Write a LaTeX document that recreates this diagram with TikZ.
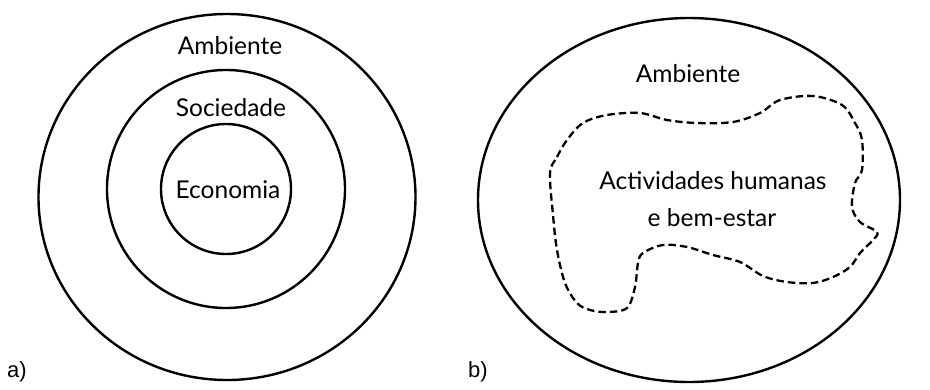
\documentclass[tikz,border=0pt]{standalone}
\usepackage{fontspec}
\setmainfont{Lato}
\newfontfamily\labelfont{Liberation Sans}
\begin{document}
\begin{tikzpicture}[x=1pt,y=-1pt,
  ring/.style={draw=black,line width=2.4pt},
  word/.style={font=\fontsize{24.5}{28}\selectfont,align=center,inner sep=0pt},
  tag/.style={font=\labelfont\fontsize{22}{26}\selectfont,inner sep=0pt,anchor=west},
  blob/.style={draw=black,line width=2.3pt,dash pattern=on 7.5pt off 4pt}]
\useasboundingbox (0,0) rectangle (930,389);

% a) nested model
\draw[ring] (227,197) ellipse [x radius=188.5, y radius=183];
\draw[ring] (226,189) circle [radius=119];
\draw[ring] (226,189) circle [radius=65];
\node[word] (ambA) at (230,46) {Ambiente};
\node[word] (soc) at (231,108) {Sociedade};
\node[word] (eco) at (228,190) {Economia};
\node[tag] (la) at (7,372) {a)};

% b) activities embedded in the environment
\draw[ring] (689,200) ellipse [x radius=211, y radius=182];
\draw[blob] plot[smooth cycle, tension=0.55] coordinates {
  (550,173) (557,157) (567,140) (583,123) (607,115) (640,113) (667,120)
  (697,123) (733,122) (760,113) (780,100) (813,96) (842,105) (855,123)
  (862,140) (862,170) (855,183) (852,207) (860,222) (877,232) (873,240)
  (860,253) (850,267) (833,277) (813,283) (787,282) (763,276) (740,262)
  (713,255) (687,247) (663,245) (643,253) (638,263) (635,287) (627,308)
  (607,312) (590,310) (577,303) (565,283) (557,250) (553,215)};
\node[word] (ambB) at (688,74) {Ambiente};
\node[word] (act) at (713,181) {Actividades humanas};
\node[word] (bem) at (712,218) {e bem-estar};
\node[tag] (lb) at (468,372) {b)};
\end{tikzpicture}
\end{document}
